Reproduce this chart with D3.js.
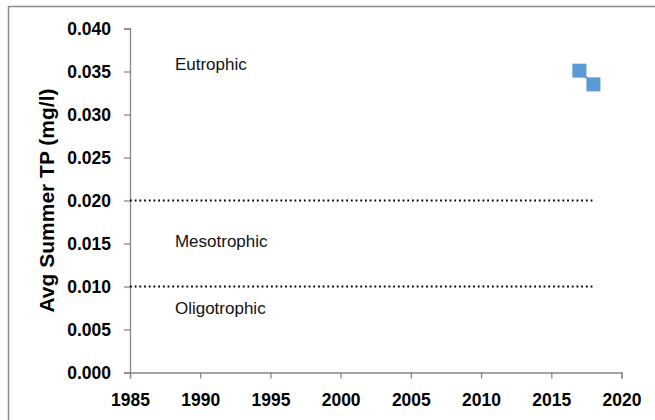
<!DOCTYPE html>
<html>
<head>
<meta charset="utf-8">
<script src="https://cdn.jsdelivr.net/npm/d3@7"></script>
<style>
  body { margin: 0; background: #fff; }
  svg { display: block; font-family: "Liberation Sans", Arial, sans-serif; }
</style>
</head>
<body>
<script>
// data
var years = [2017, 2018];
var tpValues = [0.0351, 0.0335];
var yTicks = [0, 0.005, 0.01, 0.015, 0.02, 0.025, 0.03, 0.035, 0.04];
var xTicks = [1985, 1990, 1995, 2000, 2005, 2010, 2015, 2020];
// trophic class limits, drawn from 1985 to 2018
var limitValues = [0.02, 0.01];
var limitStart = 1985, limitEnd = 2018;
// zone names and where they sit (year, TP at text baseline)
var zoneNames = ["Eutrophic", "Mesotrophic", "Oligotrophic"];
var zoneYears = [1988.2, 1988.2, 1988.2];
var zoneTP = [0.0352, 0.0146, 0.0068];

var w = 655, h = 420;
var plotLeft = 130, plotRight = 621.5, plotTop = 28.5, plotBottom = 372.5;

var svg = d3.select("body").append("svg")
    .attr("width", w)
    .attr("height", h);

// chart area border (cropped at right/bottom)
svg.append("rect")
    .attr("x", 8.5).attr("y", 6.5)
    .attr("width", 700).attr("height", 500)
    .attr("fill", "none")
    .attr("stroke", "#8c8c8c")
    .attr("stroke-width", 1.5);

var x = d3.scaleLinear().domain([1985, 2020]).range([plotLeft, plotRight]);
var y = d3.scaleLinear().domain([0, 0.04]).range([plotBottom, plotTop]);

var axisColor = "#868686";

var gy = svg.append("g")
    .attr("transform", "translate(" + plotLeft + ",0)")
    .call(d3.axisLeft(y).tickValues(yTicks).tickFormat(d3.format(".3f"))
        .tickSizeOuter(0).tickSize(6).tickPadding(13));
var gx = svg.append("g")
    .attr("transform", "translate(0," + plotBottom + ")")
    .call(d3.axisBottom(x).tickValues(xTicks).tickFormat(d3.format("d"))
        .tickSizeOuter(0).tickSize(6).tickPadding(15));

[gx, gy].forEach(function (g) {
    g.select(".domain").attr("stroke", axisColor).attr("stroke-width", 1.3);
    g.selectAll(".tick line").attr("stroke", axisColor).attr("stroke-width", 1.3);
    g.selectAll(".tick text")
        .attr("fill", "#000")
        .style("font-size", "17.5px")
        .style("font-weight", "bold")
        .style("font-family", "'Liberation Sans', Arial, sans-serif");
});

// y title
svg.append("text")
    .attr("transform", "translate(54," + ((plotTop + plotBottom) / 2) + ") rotate(-90)")
    .attr("text-anchor", "middle")
    .style("font-size", "21px")
    .style("font-weight", "bold")
    .text("Avg Summer TP (mg/l)");

// dotted limit lines
svg.selectAll(".limit")
    .data(limitValues).enter()
    .append("line")
    .attr("class", "limit")
    .attr("x1", x(limitStart))
    .attr("x2", x(limitEnd))
    .attr("y1", function (d) { return y(d); })
    .attr("y2", function (d) { return y(d); })
    .attr("stroke", "#000")
    .attr("stroke-width", 2)
    .attr("stroke-dasharray", "1.8,2.9");

// zone labels
svg.selectAll(".zone")
    .data(zoneNames).enter()
    .append("text")
    .attr("class", "zone")
    .attr("x", function (d, i) { return x(zoneYears[i]); })
    .attr("y", function (d, i) { return y(zoneTP[i]); })
    .style("font-size", "17px")
    .attr("fill", "#111")
    .text(function (d) { return d; });

// series
var pts = years.map(function (yr, i) { return [yr, tpValues[i]]; });
svg.append("path")
    .datum(pts)
    .attr("fill", "none")
    .attr("stroke", "#5b9bd5")
    .attr("stroke-width", 2)
    .attr("d", d3.line().x(function (d) { return x(d[0]); }).y(function (d) { return y(d[1]); }));

svg.selectAll(".pt")
    .data(pts).enter()
    .append("rect")
    .attr("class", "pt")
    .attr("x", function (d) { return x(d[0]) - 7; })
    .attr("y", function (d) { return y(d[1]) - 7; })
    .attr("width", 14)
    .attr("height", 14)
    .attr("fill", "#5b9bd5");
</script>
</body>
</html>
